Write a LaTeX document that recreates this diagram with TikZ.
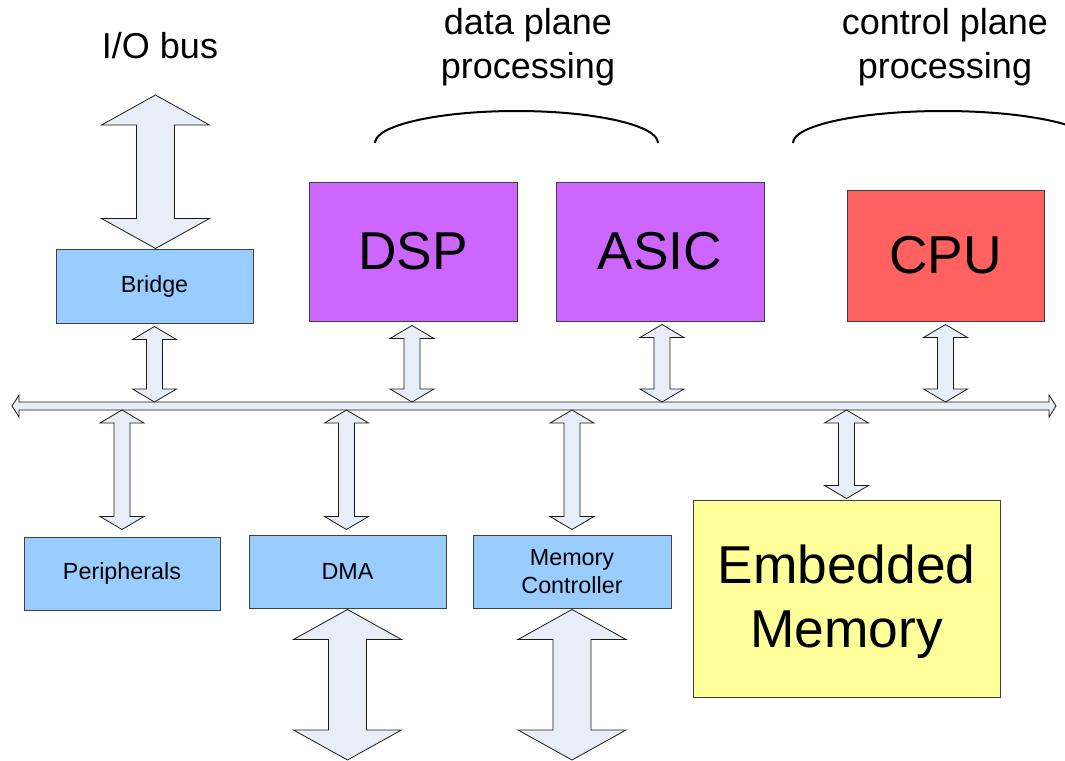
\documentclass[tikz,border=0pt]{standalone}
\usepackage{fontspec}
\setmainfont{Liberation Sans}
\usetikzlibrary{calc}
\definecolor{arrfill}{RGB}{232,238,247}
\definecolor{boxblue}{RGB}{153,204,255}
\definecolor{purp}{RGB}{204,102,255}
\definecolor{cpured}{RGB}{255,96,96}
\definecolor{memyel}{RGB}{255,255,153}
\newcommand\vdarrow[5]{\path[arr] let \p1=(#1), \p2=(#2) in (\x1,\y1) -- (\x1+#4,\y1-#3) -- (\x1+#5,\y1-#3) -- (\x1+#5,\y2+#3) -- (\x1+#4,\y2+#3) -- (\x1,\y2) -- (\x1-#4,\y2+#3) -- (\x1-#5,\y2+#3) -- (\x1-#5,\y1-#3) -- (\x1-#4,\y1-#3) -- cycle;}
\newcommand\smallarr[2]{\vdarrow{#1}{#2}{9.75pt}{16.5pt}{6pt}}
\newcommand\bigarr[2]{\vdarrow{#1}{#2}{22.5pt}{40.5pt}{14.25pt}}
\tikzset{
  arr/.style={draw=black!90, line width=0.6pt, fill=arrfill, line join=miter},
  box/.style={draw=black!75, line width=0.75pt, inner sep=0pt, align=center},
  smallbox/.style={box, fill=boxblue, font=\fontsize{17.5}{21}\selectfont},
  bigbox/.style={box, font=\fontsize{40}{48}\selectfont},
  lbl/.style={align=center, inner sep=0pt, font=\fontsize{27}{33}\selectfont},
  brace/.style={draw=black, line width=1.5pt}
}
\begin{document}
\begin{tikzpicture}[x=0.75pt,y=-0.75pt]
\useasboundingbox (0,0) rectangle (1065,761);
% labels
\node[lbl] (io) at (160,46) {I/O bus};
\node[lbl] (dp) at (528,47) {data plane\\processing};
\node[lbl] (cp) at (945,47) {control plane\\processing};
% braces
\begin{scope}
\clip (0,0) rectangle (1065,761);
\draw[brace] (375,143) arc[start angle=180, end angle=0, x radius=106.125pt, y radius=24pt];
\draw[brace] (793,143) arc[start angle=180, end angle=0, x radius=112.5pt, y radius=24pt];
\end{scope}
% boxes
\node[smallbox, minimum width=147.75pt, minimum height=55.5pt] (bridge) at (154.5,286) {Bridge};
\node[bigbox, fill=purp, minimum width=156pt, minimum height=104.25pt] (dsp) at (413,251.5) {DSP};
\node[bigbox, fill=purp, minimum width=156pt, minimum height=104.25pt] (asic) at (660,251.5) {ASIC};
\node[bigbox, fill=cpured, minimum width=147.75pt, minimum height=98.25pt] (cpu) at (945.5,255.5) {CPU};
\node[smallbox, minimum width=147pt, minimum height=54.75pt] (per) at (122,573.5) {Peripherals};
\node[smallbox, minimum width=147.75pt, minimum height=54.75pt] (dma) at (347.5,571.5) {DMA};
\node[smallbox, minimum width=148.5pt, minimum height=54.75pt] (mc) at (572,571.5) {Memory\\Controller};
\node[bigbox, fill=memyel, minimum width=230.25pt, minimum height=147.75pt, text depth=3pt] (mem) at (846.5,598.5) {Embedded\\Memory};
% bus
\coordinate (busL) at (12,406);
\coordinate (busR) at (1056,406);
\coordinate (bustop) at (0,402);
\coordinate (busbot) at (0,410);
\path[arr] let \p1=(busL), \p2=(busR) in (\x1,\y1) -- (\x1+5.25pt,\y1+8.25pt) -- (\x1+5.25pt,\y1+3pt) -- (\x2-5.25pt,\y1+3pt) -- (\x2-5.25pt,\y1+8.25pt) -- (\x2,\y1) -- (\x2-5.25pt,\y1-8.25pt) -- (\x2-5.25pt,\y1-3pt) -- (\x1+5.25pt,\y1-3pt) -- (\x1+5.25pt,\y1-8.25pt) -- cycle;
% top connectors
\smallarr{$(bridge.south)+(0,3)$}{bridge.south |- bustop}
\smallarr{$(dsp.south)+(-1,4)$}{$(dsp.south |- bustop)+(-1,0)$}
\smallarr{$(asic.south)+(2,3)$}{$(asic.south |- bustop)+(2,0)$}
\smallarr{$(cpu.south)+(0,3)$}{cpu.south |- bustop}
% bottom connectors
\smallarr{per.north |- busbot}{$(per.north)+(0,-7)$}
\smallarr{$(dma.north |- busbot)+(-1,0)$}{$(dma.north)+(-1,-5)$}
\smallarr{mc.north |- busbot}{$(mc.north)+(0,-5)$}
\smallarr{mem.north |- busbot}{$(mem.north)+(0,-1)$}
% I/O arrows
\coordinate (iotop) at (155.5,95);
\coordinate (dmaend) at (347.5,760);
\coordinate (mcend) at (572,760);
\bigarr{iotop}{bridge.north}
\bigarr{$(dma.south)+(0,1)$}{dmaend}
\bigarr{$(mc.south)+(0,1)$}{mcend}
\end{tikzpicture}
\end{document}
